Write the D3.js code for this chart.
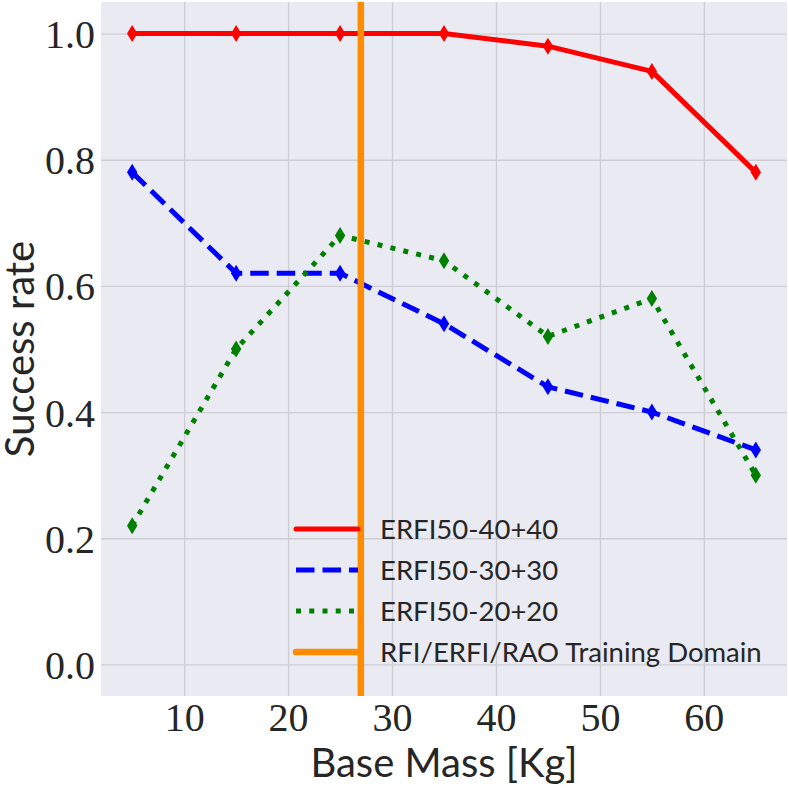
<!DOCTYPE html>
<html lang="en">
<head>
<meta charset="UTF-8">
<title>Success rate vs base mass</title>
<script src="https://cdn.jsdelivr.net/npm/d3@7"></script>
<style>
    body { margin: 0; background: #fff; }
</style>
</head>
<body>
<script>
    // data
    const masses = [5, 15, 25, 35, 45, 55, 65];
    const erfi40 = [1.0, 1.0, 1.0, 1.0, 0.98, 0.94, 0.78];
    const erfi30 = [0.78, 0.62, 0.62, 0.54, 0.44, 0.40, 0.34];
    const erfi20 = [0.22, 0.50, 0.68, 0.64, 0.52, 0.58, 0.30];
    const trainingMass = 27;
    const seriesNames = ["ERFI50-40+40", "ERFI50-30+30", "ERFI50-20+20", "RFI/ERFI/RAO Training Domain"];
    const xTicks = [10, 20, 30, 40, 50, 60];
    const yTicks = [0.0, 0.2, 0.4, 0.6, 0.8, 1.0];

    const w = 789, h = 789;
    const plotL = 101, plotR = 787, plotT = 2, plotB = 696;
    const serif = "'Liberation Serif', 'DejaVu Serif', serif";
    const sans = "Lato, 'Open Sans', sans-serif";
    const ink = "#262626";

    const xScale = d3.scaleLinear().domain([2, 68]).range([plotL, plotR]);
    const yScale = d3.scaleLinear().domain([-0.05, 1.05]).range([plotB, plotT]);

    const svg = d3.select("body").append("svg")
        .attr("width", w)
        .attr("height", h);

    // background of the axes
    svg.append("rect")
        .attr("x", plotL).attr("y", plotT)
        .attr("width", plotR - plotL).attr("height", plotB - plotT)
        .attr("fill", "#eaeaf2");

    // grid
    const xAxis = d3.axisBottom(xScale).tickValues(xTicks)
        .tickSize(-(plotB - plotT)).tickPadding(7)
        .tickFormat(d3.format("d"));
    const gx = svg.append("g")
        .attr("transform", "translate(0," + plotB + ")")
        .call(xAxis);

    const yAxis = d3.axisLeft(yScale).tickValues(yTicks)
        .tickSize(-(plotR - plotL)).tickPadding(6)
        .tickFormat(d3.format(".1f"));
    const gy = svg.append("g")
        .attr("transform", "translate(" + plotL + ",0)")
        .call(yAxis);

    [gx, gy].forEach(function (g) {
        g.select(".domain").remove();
        g.selectAll(".tick line")
            .attr("stroke", "#cdcdd3")
            .attr("stroke-width", 1.3);
        g.selectAll(".tick text")
            .attr("fill", ink)
            .attr("font-family", serif)
            .attr("font-size", "40px");
    });
    gx.selectAll(".tick text").attr("dy", "0.71em");
    gy.selectAll(".tick text").attr("dy", "0.35em");

    const series = [
        { name: seriesNames[0], values: erfi40, color: "#ff0000", dash: null },
        { name: seriesNames[1], values: erfi30, color: "#0000ff", dash: "18.5,8" },
        { name: seriesNames[2], values: erfi20, color: "#008000", dash: "5,8.25" }
    ];

    const line = d3.line()
        .x(function (d) { return xScale(d[0]); })
        .y(function (d) { return yScale(d[1]); });

    const diamond = "M0,-8.5L5.2,0L0,8.5L-5.2,0Z";

    series.forEach(function (s) {
        const pts = masses.map(function (m, i) { return [m, s.values[i]]; });
        svg.append("path")
            .datum(pts)
            .attr("d", line)
            .attr("fill", "none")
            .attr("stroke", s.color)
            .attr("stroke-width", 5)
            .attr("stroke-dasharray", s.dash)
            .attr("stroke-linejoin", "round");
        svg.append("g").selectAll("path")
            .data(pts)
            .enter()
            .append("path")
            .attr("d", diamond)
            .attr("transform", function (d) {
                return "translate(" + xScale(d[0]) + "," + yScale(d[1]) + ")";
            })
            .attr("fill", s.color);
    });

    // training domain boundary
    svg.append("line")
        .attr("x1", xScale(trainingMass)).attr("x2", xScale(trainingMass))
        .attr("y1", plotT).attr("y2", plotB)
        .attr("stroke", "#ff8c00")
        .attr("stroke-width", 6.5);

    // legend
    const legendItems = series.concat([{ name: seriesNames[3], color: "#ff8c00", dash: null, width: 6.5 }]);
    const legend = svg.append("g").attr("transform", "translate(296,529)");
    legendItems.forEach(function (s, i) {
        const row = legend.append("g").attr("transform", "translate(0," + (i * 41) + ")");
        row.append("line")
            .attr("x1", 0).attr("x2", 62)
            .attr("y1", 0).attr("y2", 0)
            .attr("stroke", s.color)
            .attr("stroke-width", s.width || 5)
            .attr("stroke-dasharray", s.dash)
            .attr("stroke-linecap", s.dash ? "butt" : "round");
        row.append("text")
            .attr("x", 84)
            .attr("y", 0)
            .attr("dy", "0.36em")
            .attr("fill", ink)
            .attr("font-family", sans)
            .attr("font-size", "27.5px")
            .text(s.name);
    });

    // axis labels
    svg.append("text")
        .attr("x", (plotL + plotR) / 2)
        .attr("y", 777)
        .attr("text-anchor", "middle")
        .attr("fill", ink)
        .attr("font-family", sans)
        .attr("font-size", "40px")
        .text("Base Mass [Kg]");

    svg.append("text")
        .attr("transform", "translate(34," + ((plotT + plotB) / 2) + ") rotate(-90)")
        .attr("text-anchor", "middle")
        .attr("fill", ink)
        .attr("font-family", sans)
        .attr("font-size", "40px")
        .text("Success rate");
</script>
</body>
</html>
